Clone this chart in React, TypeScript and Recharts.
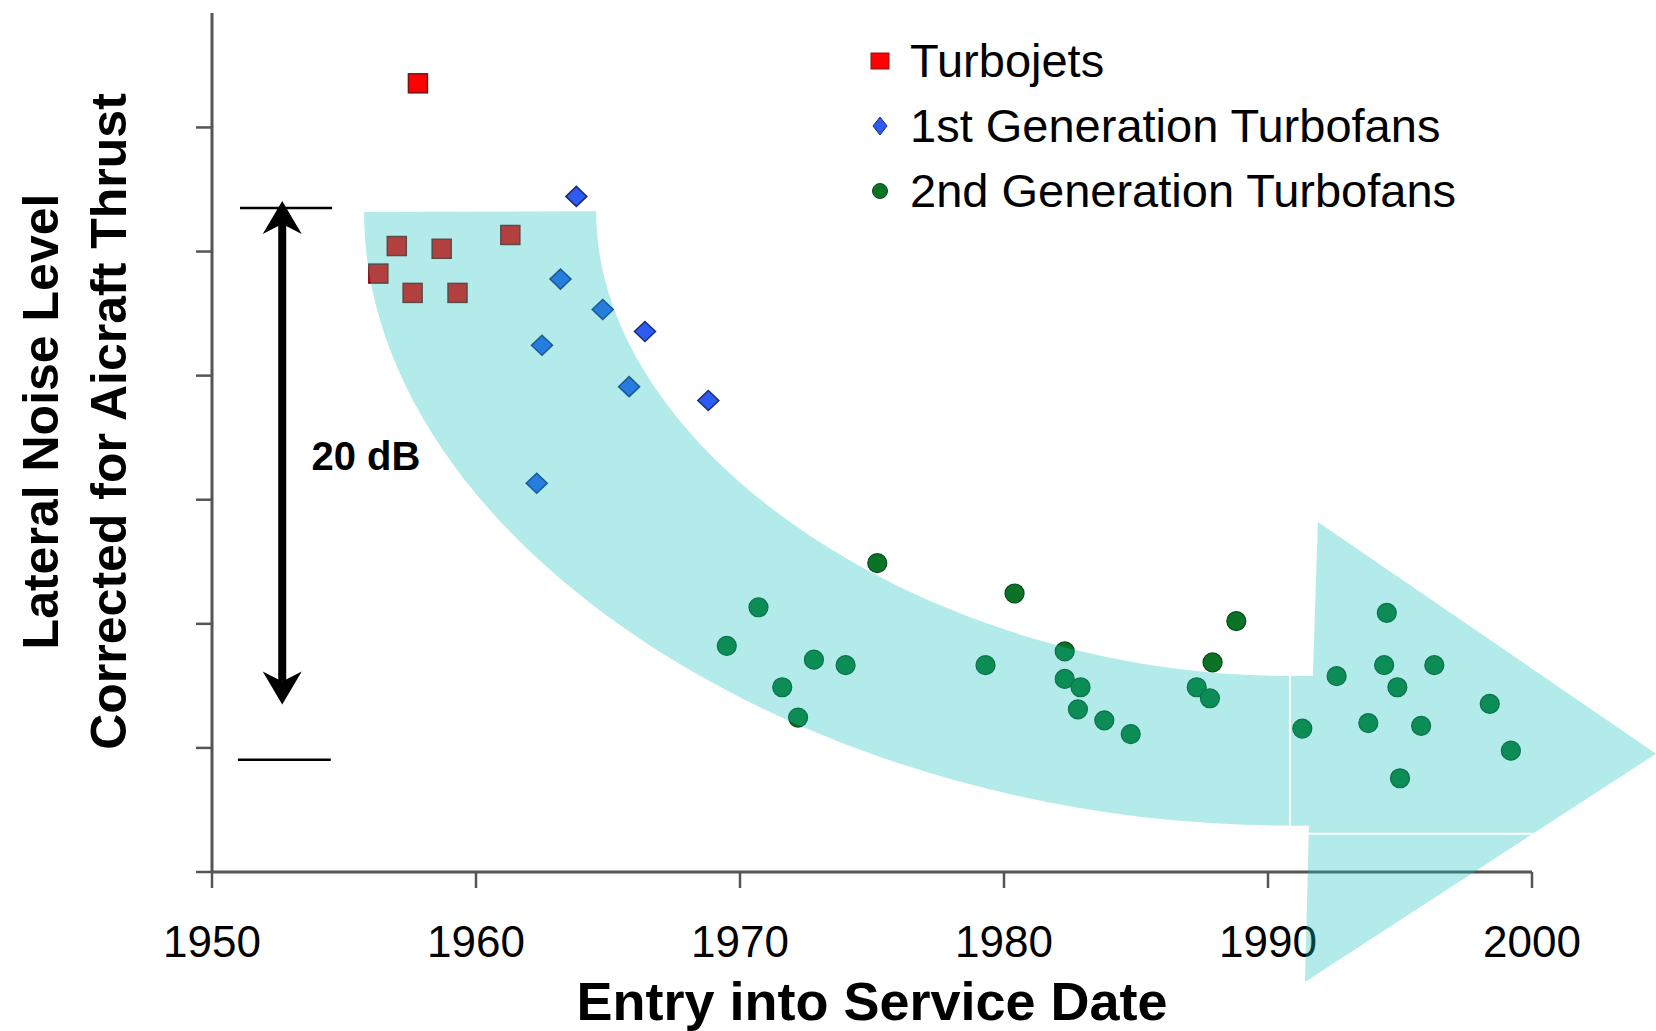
import React from 'react';
import {
  ScatterChart,
  Scatter,
  XAxis,
  YAxis,
  Legend,
  Label,
  ReferenceLine,
  ReferenceDot,
} from 'recharts';

const FONT = '"Liberation Sans", Arial, Helvetica, sans-serif';

// Entry into service year and lateral noise level (dB above the axis floor)
const turbojetYears = [1956.3, 1957.0, 1957.6, 1957.8, 1958.7, 1959.3, 1961.3];
const turbojetLevels = [21.7, 22.7, 21.0, 28.6, 22.6, 21.0, 23.1];

const gen1Years = [1962.3, 1962.5, 1963.2, 1963.8, 1964.8, 1965.8, 1966.4, 1968.8];
const gen1Levels = [14.1, 19.1, 21.5, 24.5, 20.4, 17.6, 19.6, 17.1];

const gen2Years = [
  1969.5, 1970.7, 1971.6, 1972.2, 1972.8, 1974.0, 1975.2, 1979.3, 1980.4, 1982.3,
  1982.3, 1982.8, 1982.9, 1983.8, 1984.8, 1987.3, 1987.8, 1987.9, 1988.8, 1991.3,
  1992.6, 1993.8, 1994.4, 1994.5, 1994.9, 1995.0, 1995.8, 1996.3, 1998.4, 1999.2,
];
const gen2Levels = [
  8.2, 9.6, 6.7, 5.6, 7.7, 7.5, 11.2, 7.5, 10.1, 8.0,
  7.0, 5.9, 6.7, 5.5, 5.0, 6.7, 6.3, 7.6, 9.1, 5.2,
  7.1, 5.4, 7.5, 9.4, 6.7, 3.4, 5.3, 7.5, 6.1, 4.4,
];

const seriesNames = ['Turbojets', '1st Generation Turbofans', '2nd Generation Turbofans'];

const xTicks = [1950, 1960, 1970, 1980, 1990, 2000];
const yTicks = [0, 4.5, 9, 13.5, 18, 22.5, 27];

// 20 dB bracket (year, dB)
const bracketX = 1952.66;
const bracketTop = 24.08;
const bracketBottom = 4.07;

// sweeping trend arrow (year, dB)
const bandOuterStart = [1955.76, 23.93];
const bandInnerStart = [1964.55, 23.96];
const shaftEnd = 1990.83;
const shaftTop = 7.11;
const shaftBottom = 1.68;
const headTop = [1991.89, 12.69];
const headTip = [2004.7, 4.29];
const headBottom = [1991.4, -3.99];
const seamLevel = 1.39;

const toPoints = (xs: number[], ys: number[]) => xs.map((x, i) => ({ year: x, level: ys[i] }));

const turbojets = toPoints(turbojetYears, turbojetLevels);
const gen1 = toPoints(gen1Years, gen1Levels);
const gen2 = toPoints(gen2Years, gen2Levels);

const SquareDot = ({ cx, cy }: any) => (
  <rect x={cx - 9.5} y={cy - 9.5} width={19} height={19} fill="#ff0000" stroke="#7a1212" strokeWidth={1.5} />
);

const DiamondDot = ({ cx, cy }: any) => (
  <path
    d={`M${cx},${cy - 10}L${cx + 10.5},${cy}L${cx},${cy + 10}L${cx - 10.5},${cy}Z`}
    fill="#2f5cf0"
    stroke="#1b2a7a"
    strokeWidth={1.5}
  />
);

const CircleDot = ({ cx, cy }: any) => (
  <circle cx={cx} cy={cy} r={9.5} fill="#0a7325" stroke="#064a18" strokeWidth={1.2} />
);

// maps the segment (1950,0)-(2000,27) back into a linear data->pixel transform
const makeMap = (p: any) => {
  const sx = (p.x2 - p.x1) / 50;
  const sy = (p.y2 - p.y1) / 27;
  return (yr: number, db: number) => `${p.x1 + (yr - 1950) * sx},${p.y1 + db * sy}`;
};

const BandShape = (props: any) => {
  const m = makeMap(props);
  const k1 = 0.52;
  const k2 = 0.53;
  const [ix, iy] = bandInnerStart;
  const [ox, oy] = bandOuterStart;
  const headLeftTopX = 1991.7;
  const headLeftBottomX = 1991.55;
  const t = (headTip[1] - seamLevel) / (headTip[1] - headBottom[1]);
  const seamEndX = headTip[0] - t * (headTip[0] - headBottom[0]);
  const d = [
    `M${m(ox, oy)}`,
    `L${m(ix, iy)}`,
    `C${m(ix, iy - k1 * (iy - shaftTop))} ${m(shaftEnd - k1 * (shaftEnd - ix), shaftTop)} ${m(shaftEnd, shaftTop)}`,
    `L${m(headLeftTopX, shaftTop)}`,
    `L${m(headTop[0], headTop[1])}`,
    `L${m(headTip[0], headTip[1])}`,
    `L${m(headBottom[0], headBottom[1])}`,
    `L${m(headLeftBottomX, shaftBottom)}`,
    `L${m(shaftEnd, shaftBottom)}`,
    `C${m(shaftEnd - k2 * (shaftEnd - ox), shaftBottom)} ${m(ox, oy - k2 * (oy - shaftBottom))} ${m(ox, oy)}`,
    'Z',
  ].join(' ');
  return (
    <g>
      <path d={d} fill="rgb(21,194,188)" fillOpacity={0.33} stroke="none" />
      <path d={`M${m(shaftEnd, shaftTop)} L${m(shaftEnd, shaftBottom)}`} stroke="#fff" strokeWidth={2} />
      <path d={`M${m(headLeftBottomX - 0.05, seamLevel)} L${m(seamEndX, seamLevel)}`} stroke="#fff" strokeWidth={2} />
    </g>
  );
};

const DoubleArrow = (props: any) => {
  const { x1, y1, y2 } = props;
  const top = Math.min(y1, y2);
  const bottom = Math.max(y1, y2);
  const hl = 33;
  const hw = 19.5;
  const notch = 10;
  return (
    <g>
      <line x1={x1} x2={x1} y1={top + hl - notch} y2={bottom - hl + notch} stroke="#000" strokeWidth={8} />
      <path d={`M${x1},${top}L${x1 + hw},${top + hl}L${x1},${top + hl - notch}L${x1 - hw},${top + hl}Z`} fill="#000" />
      <path d={`M${x1},${bottom}L${x1 + hw},${bottom - hl}L${x1},${bottom - hl + notch}L${x1 - hw},${bottom - hl}Z`} fill="#000" />
    </g>
  );
};

const DbLabel = ({ cx, cy }: any) => (
  <text x={cx} y={cy} dy="0.36em" textAnchor="middle" fontFamily={FONT} fontSize={40} fontWeight="bold" fill="#000">
    20 dB
  </text>
);

const XTitle = ({ viewBox }: any) => (
  <text
    x={viewBox.x + viewBox.width / 2}
    y={viewBox.y + 148}
    textAnchor="middle"
    fontFamily={FONT}
    fontSize={54}
    fontWeight="bold"
    fill="#000"
  >
    Entry into Service Date
  </text>
);

const YTitle = ({ viewBox }: any) => {
  const cy = viewBox.y + viewBox.height / 2 - 21;
  const lines = [
    { x: 58, text: 'Lateral Noise Level' },
    { x: 126, text: 'Corrected for Aicraft Thrust' },
  ];
  return (
    <g>
      {lines.map((l) => (
        <text
          key={l.text}
          x={l.x}
          y={cy}
          transform={`rotate(-90, ${l.x}, ${cy})`}
          textAnchor="middle"
          fontFamily={FONT}
          fontSize={50}
          fontWeight="bold"
          fill="#000"
        >
          {l.text}
        </text>
      ))}
    </g>
  );
};

const LegendIcon = ({ type, color }: { type: string; color: string }) => (
  <svg width={30} height={30}>
    {type === 'square' && <rect x={6} y={7} width={18} height={16} fill={color} stroke="#8a1010" strokeWidth={1} />}
    {type === 'diamond' && (
      <path d="M15,6L22,15L15,24L8,15Z" fill={color} stroke="#1b2a7a" strokeWidth={1} />
    )}
    {type === 'circle' && <circle cx={15} cy={15} r={7.5} fill={color} stroke="#064a18" strokeWidth={1} />}
  </svg>
);

const renderLegend = (props: any) => {
  const items = [...(props.payload || [])].sort(
    (a: any, b: any) => seriesNames.indexOf(a.value) - seriesNames.indexOf(b.value),
  );
  return (
    <div style={{ fontFamily: FONT, fontSize: 47, color: '#000' }}>
      {items.map((entry: any) => (
        <div key={entry.value} style={{ display: 'flex', alignItems: 'center', height: 65, whiteSpace: 'nowrap' }}>
          <LegendIcon type={entry.type} color={entry.color} />
          <span style={{ marginLeft: 15 }}>{entry.value}</span>
        </div>
      ))}
    </div>
  );
};

export default function App() {
  return (
    <div style={{ position: 'absolute', left: 0, top: 0, width: 1656, height: 1031, background: '#fff', fontFamily: FONT }}>
      <ScatterChart width={1656} height={1031} margin={{ top: 13, right: 124, bottom: 0, left: 0 }}>
        <XAxis
          type="number"
          dataKey="year"
          domain={[1950, 2000]}
          ticks={xTicks}
          height={159}
          tickSize={16}
          tickMargin={38}
          axisLine={{ stroke: '#555', strokeWidth: 3 }}
          tickLine={{ stroke: '#555', strokeWidth: 2.5 }}
          tick={{ fill: '#000', fontSize: 44, fontFamily: FONT }}
        >
          <Label content={XTitle} />
        </XAxis>
        <YAxis
          type="number"
          dataKey="level"
          domain={[0, 31.15]}
          ticks={yTicks}
          width={212}
          tickSize={16}
          tickFormatter={() => ''}
          axisLine={{ stroke: '#555', strokeWidth: 3 }}
          tickLine={{ stroke: '#555', strokeWidth: 2.5 }}
        >
          <Label content={YTitle} />
        </YAxis>
        <Legend
          layout="vertical"
          align="center"
          verticalAlign="middle"
          content={renderLegend}
          wrapperStyle={{ left: 865, top: 28, width: 720 }}
        />
        <Scatter name={seriesNames[0]} data={turbojets} fill="#ff0000" legendType="square" shape={SquareDot} isAnimationActive={false} />
        <Scatter name={seriesNames[1]} data={gen1} fill="#2f5cf0" legendType="diamond" shape={DiamondDot} isAnimationActive={false} />
        <Scatter name={seriesNames[2]} data={gen2} fill="#0a7325" legendType="circle" shape={CircleDot} isAnimationActive={false} />
        <ReferenceLine
          segment={[{ x: 1951.06, y: bracketTop }, { x: 1954.55, y: bracketTop }]}
          stroke="#000"
          strokeWidth={2.5}
        />
        <ReferenceLine
          segment={[{ x: 1950.98, y: bracketBottom }, { x: 1954.5, y: bracketBottom }]}
          stroke="#000"
          strokeWidth={2.5}
        />
        <ReferenceLine
          segment={[{ x: bracketX, y: 6.07 }, { x: bracketX, y: 24.33 }]}
          shape={DoubleArrow}
        />
        <ReferenceDot x={1955.83} y={15.1} r={0} shape={DbLabel} />
        <ReferenceLine
          segment={[{ x: 1950, y: 0 }, { x: 2000, y: 27 }]}
          shape={BandShape}
          zIndex={3000}
        />
      </ScatterChart>
    </div>
  );
}
